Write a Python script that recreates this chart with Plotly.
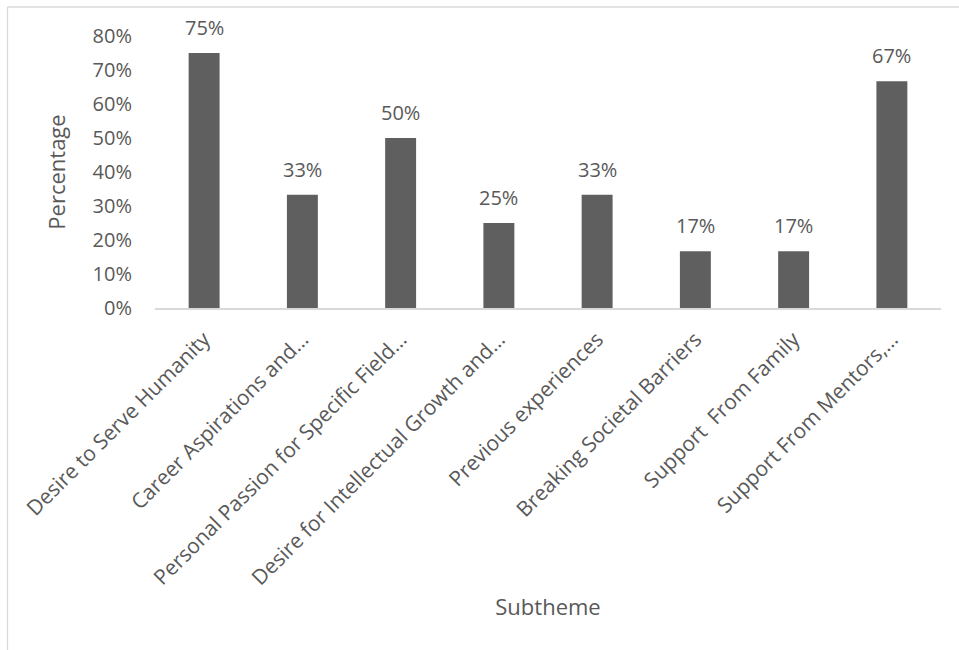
import plotly.graph_objects as go

categories = [
    "Desire to Serve Humanity",
    "Career Aspirations and…",
    "Personal Passion for Specific Field…",
    "Desire for Intellectual Growth and…",
    "Previous experiences",
    "Breaking Societal Barriers",
    "Support  From Family",
    "Support From Mentors,…",
]
values = [0.75, 0.3333, 0.50, 0.25, 0.3333, 0.1667, 0.1667, 0.6667]
value_labels = ["75%", "33%", "50%", "25%", "33%", "17%", "17%", "67%"]
y_ticks = [0, 0.1, 0.2, 0.3, 0.4, 0.5, 0.6, 0.7, 0.8]
y_tick_labels = ["0%", "10%", "20%", "30%", "40%", "50%", "60%", "70%", "80%"]

text_color = "#595959"
bar_color = "#5f5f5f"
font_family = "Open Sans, Noto Sans, sans-serif"

fig = go.Figure(
    go.Bar(
        x=categories,
        y=values,
        marker=dict(color=bar_color, line=dict(width=0)),
        width=0.315,
        hoverinfo="x+y",
    )
)

for c, v, t in zip(categories, values, value_labels):
    fig.add_annotation(
        x=c, y=v, text=t, showarrow=False, yanchor="bottom", yshift=10,
        font=dict(size=20, color=text_color, family=font_family),
    )

# plot area in pixels: x 155..941, y 36..308
L, R, T, B = 155, 941, 36, 308
W, H = R - L, B - T

def px_x(p):
    return (p - L) / W

def px_y(p):
    return (B - p) / H

line_style = dict(color="#d9d9d9", width=1.3)
fig.add_shape(type="line", xref="paper", yref="paper",
              x0=px_x(7.5), x1=px_x(960), y0=px_y(7), y1=px_y(7), line=line_style)
fig.add_shape(type="line", xref="paper", yref="paper",
              x0=px_x(7.5), x1=px_x(7.5), y0=px_y(7), y1=px_y(652), line=line_style)

fig.update_layout(
    width=959,
    height=650,
    margin=dict(l=L, r=959 - R, t=T, b=650 - B),
    paper_bgcolor="white",
    plot_bgcolor="white",
    font=dict(family=font_family, color=text_color),
    showlegend=False,
)
fig.update_xaxes(
    tickangle=-45,
    tickfont=dict(size=21, color=text_color),
    showline=True,
    linecolor="#d9d9d9",
    linewidth=1.5,
    ticks="",
    ticklabelstandoff=9,
    showgrid=False,
    title=dict(text="Subtheme", font=dict(size=22, color=text_color), standoff=7),
    automargin=False,
)
fig.update_yaxes(
    range=[0, 0.8],
    tickvals=y_ticks,
    ticktext=y_tick_labels,
    tickfont=dict(size=20, color=text_color),
    showgrid=False,
    zeroline=False,
    showline=False,
    ticks="",
    ticklabelstandoff=22,
    title=dict(text="Percentage", font=dict(size=22, color=text_color), standoff=20),
    automargin=False,
)

fig.write_html("out.html")
